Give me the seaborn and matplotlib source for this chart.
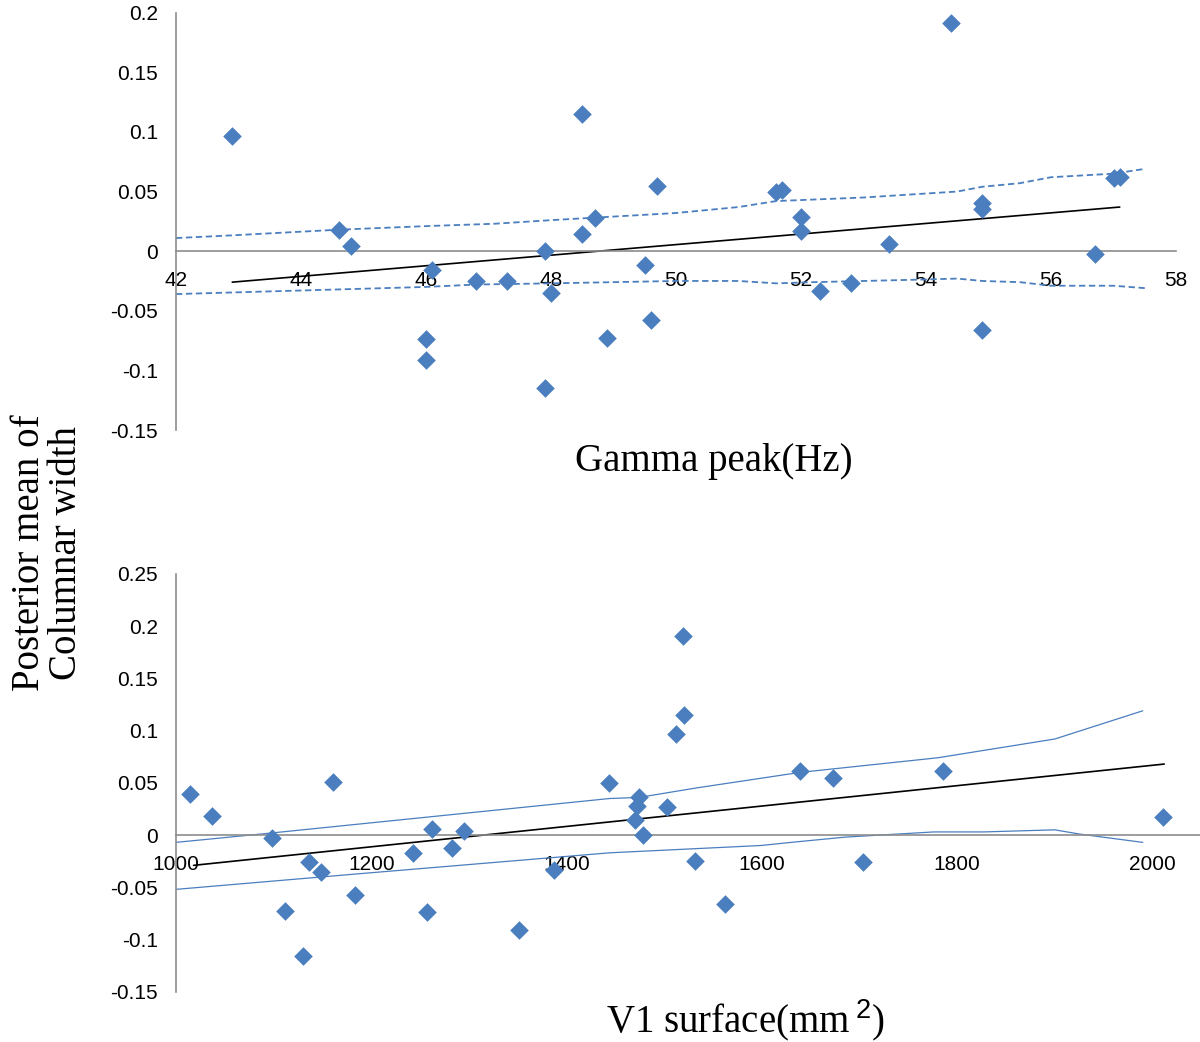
import numpy as np
import pandas as pd
import seaborn as sns
import matplotlib.pyplot as plt

# top panel: gamma peak (Hz) vs posterior mean of columnar width
gamma_hz = [42.9, 44.6, 44.8, 46.0, 46.0, 46.1, 46.8, 47.3, 47.9, 48.0, 47.9,
            48.5, 48.5, 48.7, 48.9, 49.5, 49.6, 49.7, 51.6, 51.7, 52.0, 52.0,
            52.3, 52.8, 53.4, 54.4, 54.9, 54.9, 54.9, 56.7, 57.0, 57.1]
gamma_width = [0.097, 0.018, 0.004, -0.074, -0.091, -0.016, -0.025, -0.025, 0.0, -0.035, -0.115,
               0.115, 0.014, 0.028, -0.073, -0.012, -0.058, 0.055, 0.050, 0.051, 0.029, 0.017,
               -0.033, -0.027, 0.006, 0.191, 0.040, 0.035, -0.066, -0.002, 0.061, 0.062]
gamma_fit_x = [42.9, 57.1]
gamma_fit_y = [-0.026, 0.037]
gamma_up_x = [42.0, 42.8, 44.6, 46.0, 47.1, 48.0, 49.0, 50.0, 51.0, 51.6, 53.0, 54.5, 54.9, 55.5, 56.0, 57.0, 57.5]
gamma_up_y = [0.011, 0.013, 0.018, 0.021, 0.023, 0.026, 0.029, 0.032, 0.037, 0.042, 0.045, 0.050, 0.054, 0.057, 0.062, 0.065, 0.069]
gamma_lo_x = [42.0, 46.0, 46.8, 48.0, 49.0, 50.0, 51.0, 51.6, 52.2, 53.8, 54.5, 54.9, 55.5, 56.0, 57.0, 57.5]
gamma_lo_y = [-0.036, -0.030, -0.028, -0.027, -0.026, -0.025, -0.025, -0.027, -0.026, -0.024, -0.023, -0.025, -0.026, -0.029, -0.029, -0.031]
gamma_xticks = [42, 44, 46, 48, 50, 52, 54, 56, 58]
gamma_yticks = [-0.15, -0.1, -0.05, 0, 0.05, 0.1, 0.15, 0.2]

# bottom panel: V1 surface (mm2)
v1_area = [1014, 1037, 1098, 1112, 1136, 1148, 1130, 1161, 1183, 1243, 1262, 1257, 1283, 1295, 1351, 1387,
           1443, 1519, 1520, 1512, 1474, 1472, 1470, 1478, 1503, 1531, 1562, 1639, 1673, 1704, 1785, 2011]
v1_width = [0.039, 0.018, -0.003, -0.073, -0.026, -0.035, -0.116, 0.051, -0.057, -0.017, 0.006, -0.074, -0.012, 0.004, -0.091, -0.033,
            0.050, 0.191, 0.115, 0.097, 0.036, 0.028, 0.014, 0.0, 0.027, -0.025, -0.066, 0.061, 0.055, -0.026, 0.061, 0.017]
v1_fit_x = [1018, 2012]
v1_fit_y = [-0.029, 0.068]
v1_up_x = [1000, 1098, 1444, 1474, 1532, 1639, 1780, 1900, 1990]
v1_up_y = [-0.007, 0.002, 0.035, 0.036, 0.045, 0.060, 0.074, 0.092, 0.119]
v1_lo_x = [1000, 1188, 1444, 1599, 1630, 1685, 1776, 1827, 1900, 1925, 1990]
v1_lo_y = [-0.052, -0.037, -0.017, -0.010, -0.007, -0.002, 0.003, 0.003, 0.005, 0.001, -0.007]
v1_xticks = [1000, 1200, 1400, 1600, 1800, 2000]
v1_yticks = [-0.15, -0.1, -0.05, 0, 0.05, 0.1, 0.15, 0.2, 0.25]

blue = "#4a7ebf"
grey = "#8c8c8c"

sns.set_style("white")
plt.rcParams['font.family'] = ['Liberation Sans', 'DejaVu Sans']
plt.rcParams['axes.unicode_minus'] = False
plt.rcParams['text.color'] = 'black'
plt.rcParams['axes.labelcolor'] = 'black'
plt.rcParams['mathtext.fontset'] = 'custom'
plt.rcParams['mathtext.rm'] = 'Liberation Serif'
plt.rcParams['mathtext.sf'] = 'Liberation Sans'

fig = plt.figure(figsize=(12, 10.42), dpi=100)
ax1 = fig.add_axes([176/1200, 1-430/1042, 1000/1200, (430-12.7)/1042])
ax2 = fig.add_axes([176/1200, 1-991.7/1042, 1024/1200, (991.7-574)/1042])


def style_axis(ax, xticks, yticks, xlim, ylim):
    ax.set_xlim(*xlim)
    ax.set_ylim(*ylim)
    for s in ['top', 'right']:
        ax.spines[s].set_visible(False)
    ax.spines['bottom'].set_position(('data', 0))
    for s in ['left', 'bottom']:
        ax.spines[s].set_color(grey)
        ax.spines[s].set_linewidth(1.2)
    ax.set_xticks(xticks)
    ax.set_xticklabels([f"{t:g}" for t in xticks])
    ax.set_yticks(yticks)
    ax.set_yticklabels([f"{t:g}" for t in yticks])
    ax.tick_params(axis='x', direction='out', length=5, width=1.2, color=grey,
                   labelsize=15, pad=9, labelcolor='black')
    ax.tick_params(axis='y', direction='out', length=5, width=1.2, color=grey,
                   labelsize=15, pad=8, labelcolor='black')
    ax.set_ylabel("")
    ax.patch.set_alpha(0)


# top chart
sns.lineplot(x=gamma_up_x, y=gamma_up_y, ax=ax1, color=blue, lw=1.3,
             linestyle=(0, (3.5, 2)), sort=False, estimator=None)
sns.lineplot(x=gamma_lo_x, y=gamma_lo_y, ax=ax1, color=blue, lw=1.3,
             linestyle=(0, (3.5, 2)), sort=False, estimator=None)
sns.lineplot(x=gamma_fit_x, y=gamma_fit_y, ax=ax1, color='black', lw=1.2, estimator=None)
sns.scatterplot(x=gamma_hz, y=gamma_width, ax=ax1, marker='D', s=90,
                color=blue, linewidth=0, zorder=3)
style_axis(ax1, gamma_xticks, gamma_yticks, (42, 58), (-0.15, 0.2))
ax1.set_xlabel("Gamma peak(Hz)", family='Liberation Serif', fontsize=28)
ax1.xaxis.set_label_coords((714-176)/1000, -(462-430)/417.3)
ax1.xaxis.label.set_va('center')

# bottom chart
sns.lineplot(x=v1_up_x, y=v1_up_y, ax=ax2, color=blue, lw=0.9, sort=False, estimator=None)
sns.lineplot(x=v1_lo_x, y=v1_lo_y, ax=ax2, color=blue, lw=0.9, sort=False, estimator=None)
sns.lineplot(x=v1_fit_x, y=v1_fit_y, ax=ax2, color='black', lw=1.2, estimator=None)
sns.scatterplot(x=v1_area, y=v1_width, ax=ax2, marker='D', s=90,
                color=blue, linewidth=0, zorder=3)
style_axis(ax2, v1_xticks, v1_yticks, (1000, 1000 + 1024/0.9765), (-0.15, 0.25))
ax2.set_xlabel(r"V1 surface(mm$\,^{\mathsf{2}}$)", family='Liberation Serif', fontsize=28)
ax2.xaxis.set_label_coords((745-176)/1024, -(1020-991.7)/417.7)
ax2.xaxis.label.set_va('center')

fig.text(48/1200, 1-553/1042, "Posterior mean of\nColumnar width", rotation=90,
         ha='center', va='center', family='Liberation Serif', fontsize=28, linespacing=1.0)

plt.savefig("out.png", dpi=100)
plt.close()
